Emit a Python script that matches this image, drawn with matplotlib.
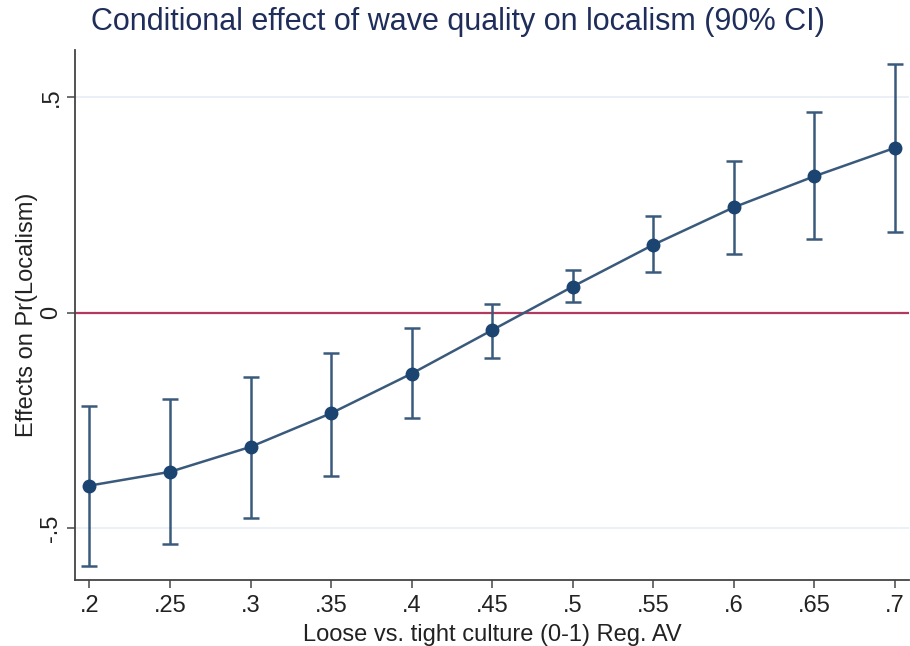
import matplotlib
matplotlib.use("Agg")
import matplotlib.pyplot as plt

x_vals = [0.20, 0.25, 0.30, 0.35, 0.40, 0.45, 0.50, 0.55, 0.60, 0.65, 0.70]
effects = [-0.401, -0.369, -0.311, -0.233, -0.141, -0.040, 0.061, 0.158, 0.245, 0.317, 0.383]
ci_upper = [-0.217, -0.201, -0.150, -0.093, -0.035, 0.021, 0.100, 0.225, 0.353, 0.466, 0.577]
ci_lower = [-0.587, -0.537, -0.475, -0.378, -0.245, -0.104, 0.025, 0.094, 0.137, 0.172, 0.187]
x_ticklabels = [".2", ".25", ".3", ".35", ".4", ".45", ".5", ".55", ".6", ".65", ".7"]
y_ticks = [-0.5, 0, 0.5]
y_ticklabels = ["-.5", "0", ".5"]

plt.rcParams['font.family'] = ['Liberation Sans', 'DejaVu Sans']

fig = plt.figure(figsize=(9.1, 6.46), dpi=100)
ax = fig.add_axes([0.0824, 0.1022, 0.9165, 0.8204])

navy = '#1b4471'
linec = '#3a5a7c'
textc = '#222222'

for yv in [-0.5, 0.5]:
    ax.axhline(yv, color='#e6eef3', lw=1.2, zorder=0)
ax.axhline(0, color='#b23a5e', lw=1.6, zorder=1)

yerr = [[e - l for e, l in zip(effects, ci_lower)], [u - e for e, u in zip(effects, ci_upper)]]
ax.errorbar(x_vals, effects, yerr=yerr, fmt='none', ecolor=linec, elinewidth=1.8,
            capsize=6, capthick=1.8, zorder=2)
ax.plot(x_vals, effects, color=linec, lw=1.8, zorder=3)
ax.plot(x_vals, effects, 'o', color=navy, ms=9, zorder=4)

ax.set_xlim(0.191, 0.7087)
ax.set_ylim(-0.62, 0.61)
ax.set_xticks(x_vals)
ax.set_xticklabels(x_ticklabels, fontsize=17, color=textc)
ax.set_yticks(y_ticks)
ax.set_yticklabels(y_ticklabels, fontsize=17, rotation=90, va='center', color=textc)
ax.tick_params(direction='out', length=6, width=1.2, color='#555555')
ax.tick_params(axis='x', pad=5)
ax.tick_params(axis='y', pad=3)
for s in ['top', 'right']:
    ax.spines[s].set_visible(False)
for s in ['left', 'bottom']:
    ax.spines[s].set_color('#444444')
    ax.spines[s].set_linewidth(1.3)

ax.set_xlabel("Loose vs. tight culture (0-1) Reg. AV", fontsize=17, labelpad=5, color=textc)
ax.set_ylabel("Effects on Pr(Localism)", fontsize=17, labelpad=2, color=textc)
fig.text(0.503, 0.966, "Conditional effect of wave quality on localism (90% CI)",
         ha='center', va='center', fontsize=22, color='#1e2d5a')

fig.savefig("out.png", dpi=100)
